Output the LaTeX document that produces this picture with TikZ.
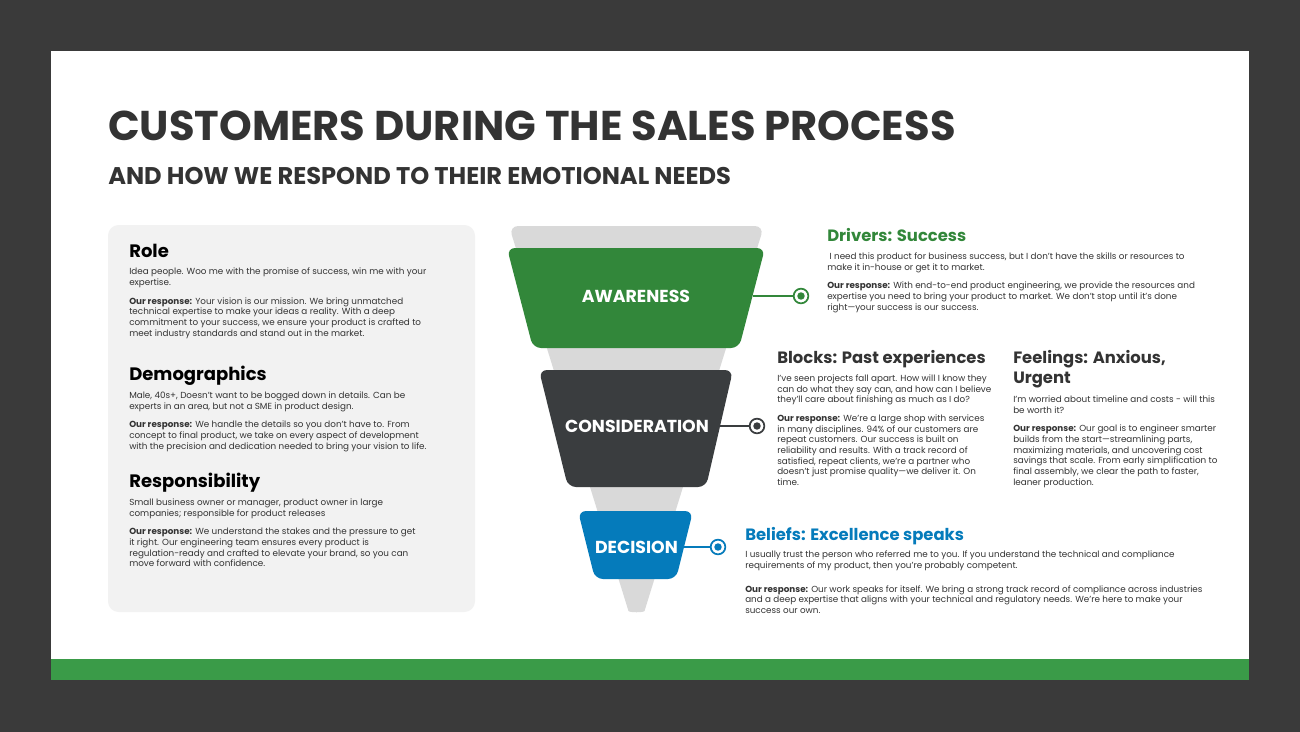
\documentclass[tikz,border=0pt]{standalone}
\usepackage{fontspec}
\setmainfont{Poppins}
\definecolor{salesgreen} {RGB}{50,135,58}
\definecolor{salesdark}  {RGB}{58,61,63}
\definecolor{salesblue}  {RGB}{5,123,187}
\definecolor{salesgray}  {RGB}{217,217,217}
\definecolor{salesink}   {RGB}{51,51,51}
\definecolor{salesframe} {RGB}{58,58,58}
\definecolor{salesband}  {RGB}{58,155,72}
\definecolor{salespanel} {RGB}{242,242,242}
\usetikzlibrary{positioning}
\newcommand{\ourresp}{\textbf{Our response:}}
\tikzset{
  headtext/.style={anchor=base west,inner sep=0pt,text=#1,
                   font=\fontsize{12.3}{15}\selectfont\bfseries},
  headtext/.default=black,
  bodytext/.style={anchor=north west,inner sep=0pt,align=left,text=salesink,
                   font=\fontsize{6.6}{8}\selectfont},
  stagelbl/.style={text=white,inner sep=0pt,
                   font=\fontsize{13}{14}\selectfont\bfseries},
  ringdot/.style={circle,draw=#1,fill=white,line width=1.3pt,
                  minimum size=11pt,inner sep=0pt,
                  path picture={\fill[#1] (path picture bounding box.center) circle (2.8pt);}},
  link/.style={line width=1.1pt,#1},
}
\begin{document}
\begin{tikzpicture}[x=0.75pt,y=-0.75pt,
        stage/.style={rounded corners=6pt}
      ]
        \useasboundingbox (0,0) rectangle (1300,732);

        % frame, sheet and bottom band
        \fill[salesframe] (0,0) rectangle (1300,732);
        \fill[white] (51,51) rectangle (1249,659);
        \fill[salesband] (51,659) rectangle (1249,680);

        % title
        \node[anchor=base west, inner sep=0pt, text=salesink,
              font=\fontsize{31.2}{36}\selectfont\bfseries] (title) at (108,140)
          {CUSTOMERS DURING THE SALES PROCESS};
        \node[anchor=base west, inner sep=0pt, text=salesink,
              font=\fontsize{18.1}{20}\selectfont\bfseries] (subtitle) at (108,184)
          {AND HOW WE RESPOND TO THEIR EMOTIONAL NEEDS};

        % persona panel
        \fill[salespanel, rounded corners=8pt] (108,225) rectangle (475,612);

        \node[headtext, font=\fontsize{13.5}{15}\selectfont\bfseries] (role) at (129,257) {Role};
        \node[bodytext] (roletxt) at (129,268)
          {Idea people. Woo me with the promise of success, win me with your\\
           expertise.\\[6pt]
           \ourresp{} Your vision is our mission. We bring unmatched\\
           technical expertise to make your ideas a reality. With a deep\\
           commitment to your success, we ensure your product is crafted to\\
           meet industry standards and stand out in the market.};

        \node[headtext, font=\fontsize{13.5}{15}\selectfont\bfseries] (demo) at (129,380) {Demographics};
        \node[bodytext] (demotxt) at (129,391.5)
          {Male, 40s+, Doesn’t want to be bogged down in details. Can be\\
           experts in an area, but not a SME in product design.\\[6pt]
           \ourresp{} We handle the details so you don’t have to. From\\
           concept to final product, we take on every aspect of development\\
           with the precision and dedication needed to bring your vision to life.};

        \node[headtext, font=\fontsize{13.5}{15}\selectfont\bfseries] (resp) at (129,487) {Responsibility};
        \node[bodytext] (resptxt) at (129,498.5)
          {Small business owner or manager, product owner in large\\
           companies; responsible for product releases\\[6pt]
           \ourresp{} We understand the stakes and the pressure to get\\
           it right. Our engineering team ensures every product is\\
           regulation-ready and crafted to elevate your brand, so you can\\
           move forward with confidence.};

        % funnel backdrop
        \fill[salesgray, rounded corners=7pt] (636.5,226) -- (764,226) -- (647.3,602)
          .. controls (644,612.7) and (629,612.7) .. (625.7,602) -- (509,226) -- cycle;

        % funnel stages
        \fill[salesgreen, stage] (507,248) -- (765,248) -- (739,348) -- (533,348) -- cycle;
        \fill[salesdark, stage] (539,370) -- (733,370) -- (706,487) -- (568,487) -- cycle;
        \fill[salesblue, stage] (578,511) -- (693,511) -- (676,579) -- (595,579) -- cycle;

        \node[stagelbl] (aware) at (636,296) {AWARENESS};
        \node[stagelbl] (consid) at (637,426) {CONSIDERATION};
        \node[stagelbl] (decis) at (636.5,547) {DECISION};

        \coordinate (awedge) at (752.5,296);
        \coordinate (coedge) at (720,426);
        \coordinate (deedge) at (684,547);

        \node[ringdot=salesgreen] (awdot) at (801,296) {};
        \node[ringdot=salesdark] (codot) at (757,426) {};
        \node[ringdot=salesblue] (dedot) at (718,547) {};

        \draw[link=salesgreen] (awedge) -- (awdot);
        \draw[link=salesdark] (coedge) -- (codot);
        \draw[link=salesblue] (deedge) -- (dedot);

        % stage notes
        \node[headtext=salesgreen] (drivers) at (827,241.5) {Drivers: Success};
        \node[bodytext] (drivtxt) at (827,252.5)
          {\ I need this product for business success, but I don’t have the skills or resources to\\
           make it in-house or get it to market.\\[6pt]
           \ourresp{} With end-to-end product engineering, we provide the resources and\\
           expertise you need to bring your product to market. We don’t stop until it’s done\\
           right—your success is our success.};

        \node[headtext=salesink] (blocks) at (777,363) {Blocks: Past experiences};
        \node[bodytext] (blocktxt) at (777,374.5)
          {I’ve seen projects fall apart. How will I know they\\
           can do what they say can, and how can I believe\\
           they’ll care about finishing as much as I do?\\[6pt]
           \ourresp{} We’re a large shop with services\\
           in many disciplines. 94\% of our customers are\\
           repeat customers. Our success is built on\\
           reliability and results. With a track record of\\
           satisfied, repeat clients, we’re a partner who\\
           doesn’t just promise quality—we deliver it. On\\
           time.};

        \node[headtext=salesink, align=left] (feel) at (1013,383)
          {Feelings: Anxious,\\ Urgent};
        \node[bodytext] (feeltxt) at (1013,395.5)
          {I’m worried about timeline and costs - will this\\
           be worth it?\\[6pt]
           \ourresp{} Our goal is to engineer smarter\\
           builds from the start—streamlining parts,\\
           maximizing materials, and uncovering cost\\
           savings that scale. From early simplification to\\
           final assembly, we clear the path to faster,\\
           leaner production.};

        \node[headtext=salesblue] (beliefs) at (745,540) {Beliefs: Excellence speaks};
        \node[bodytext] (belitxt) at (745,550.5)
          {I usually trust the person who referred me to you. If you understand the technical and compliance\\
           requirements of my product, then you’re probably competent.\\[10pt]
           \ourresp{} Our work speaks for itself. We bring a strong track record of compliance across industries\\
           and a deep expertise that aligns with your technical and regulatory needs. We’re here to make your\\
           success our own.};

      \end{tikzpicture}
\end{document}
